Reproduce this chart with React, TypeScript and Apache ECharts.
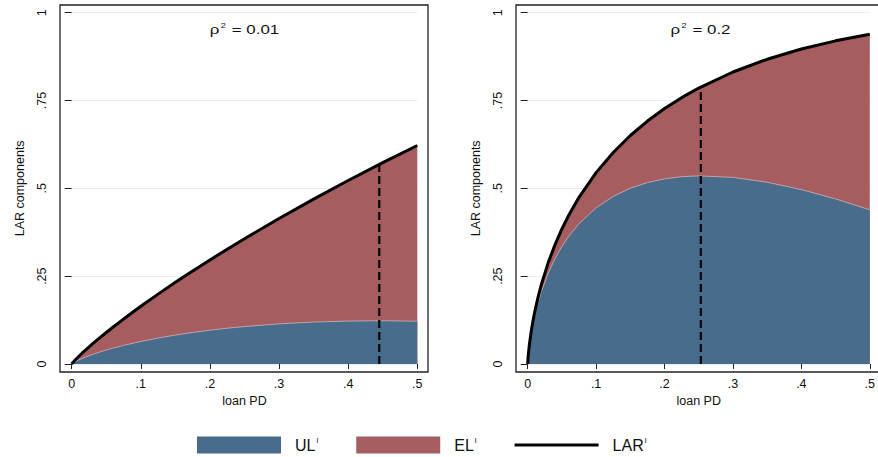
import React, { useEffect, useRef } from "react";
import * as echarts from "echarts";

// loan PD grid (x)
const pd = [0, 0.0005, 0.001, 0.0025, 0.005, 0.0075, 0.01, 0.015, 0.02, 0.03, 0.04, 0.05, 0.06, 0.075, 0.1, 0.125, 0.15, 0.175, 0.2, 0.225, 0.25, 0.3, 0.35, 0.4, 0.45, 0.5];

// Left panel (rho^2 = 0.01)
const larLeft = [0, 0.0014, 0.0026, 0.006, 0.0114, 0.0164, 0.0213, 0.0307, 0.0398, 0.0571, 0.0737, 0.0897, 0.1053, 0.1279, 0.1642, 0.1989, 0.2324, 0.2648, 0.2962, 0.3269, 0.3567, 0.4143, 0.4694, 0.5223, 0.5731, 0.6219];
const ulLeft = [0, 0.0009, 0.0016, 0.0035, 0.0064, 0.0089, 0.0113, 0.0157, 0.0198, 0.0271, 0.0337, 0.0397, 0.0453, 0.0529, 0.0642, 0.0739, 0.0824, 0.0898, 0.0962, 0.1019, 0.1067, 0.1143, 0.1194, 0.1223, 0.1231, 0.1219];

// Right panel (rho^2 = 0.2)
const larRight = [0, 0.0164, 0.0281, 0.0556, 0.091, 0.1201, 0.1455, 0.1891, 0.2263, 0.2885, 0.3401, 0.3844, 0.4234, 0.4744, 0.5447, 0.6022, 0.6504, 0.6915, 0.7271, 0.7582, 0.7855, 0.8312, 0.8674, 0.8965, 0.9199, 0.9388];
const ulRight = [0, 0.0159, 0.0271, 0.0531, 0.086, 0.1126, 0.1355, 0.1741, 0.2063, 0.2585, 0.3001, 0.3344, 0.3634, 0.3994, 0.4447, 0.4772, 0.5004, 0.5165, 0.5271, 0.5332, 0.5355, 0.5312, 0.5174, 0.4965, 0.4699, 0.4388];

// dashed cutoff lines
const cutPD = [0.445, 0.253];
const cutLAR = [0.568, 0.791];

const panelTitles = ["0.01", "0.2"];
const legendNames = ["UL", "EL", "LAR"];

const BLUE = "#486c8c";
const RED = "#a55d60";
const FONT = "Liberation Sans, Arial, Helvetica, sans-serif";

const GRID_TOP = 12.7;
const GRID_H = 351.3;
const GRID_W = 345.6;
const GRID_LEFT = [71.7, 527.7];

const fmt = (v: number) => {
  const s = String(Number(v.toFixed(3)));
  return s.startsWith("0.") ? s.slice(1) : s;
};

export default function App() {
  const ref = useRef<HTMLDivElement>(null);
  useEffect(() => {
    if (!ref.current) return;
    const chart = echarts.init(ref.current, undefined, { renderer: "svg" });
    const lars = [larLeft, larRight];
    const uls = [ulLeft, ulRight];

    const series: any[] = [];
    [0, 1].forEach((i) => {
      series.push({
        name: "EL",
        type: "line",
        xAxisIndex: i,
        yAxisIndex: i,
        data: pd.map((x, k) => [x, lars[i][k]]),
        symbol: "none",
        showSymbol: false,
        itemStyle: { color: RED },
        lineStyle: { width: 0, color: RED },
        areaStyle: { color: RED, opacity: 1 },
        z: 1,
      });
      series.push({
        name: "UL",
        type: "line",
        xAxisIndex: i,
        yAxisIndex: i,
        data: pd.map((x, k) => [x, uls[i][k]]),
        symbol: "none",
        showSymbol: false,
        itemStyle: { color: BLUE },
        lineStyle: { width: 0.8, color: "#d6b2b4" },
        areaStyle: { color: BLUE, opacity: 1 },
        z: 2,
      });
      series.push({
        name: "cutoff",
        type: "line",
        xAxisIndex: i,
        yAxisIndex: i,
        data: [
          [cutPD[i], 0],
          [cutPD[i], cutLAR[i]],
        ],
        symbol: "none",
        showSymbol: false,
        lineStyle: { width: 2.2, color: "#000", type: [8, 4] },
        z: 3,
      });
      series.push({
        name: "LAR",
        type: "line",
        xAxisIndex: i,
        yAxisIndex: i,
        data: pd.map((x, k) => [x, lars[i][k]]),
        symbol: "none",
        showSymbol: false,
        clip: false,
        itemStyle: { color: "#000" },
        lineStyle: { width: 3, color: "#000" },
        z: 4,
      });
    });

    const option: any = {
      animation: false,
      grid: [0, 1].map((i) => ({
        left: GRID_LEFT[i],
        top: GRID_TOP,
        width: GRID_W,
        height: GRID_H,
      })),
      xAxis: [0, 1].map((i) => ({
        type: "value",
        gridIndex: i,
        min: 0,
        max: 0.5,
        interval: 0.1,
        offset: 8,
        axisLine: { show: false },
        axisTick: { show: true, length: 5, lineStyle: { color: "#222", width: 1 } },
        axisLabel: { formatter: fmt, color: "#111", fontSize: 12.5, fontFamily: FONT, margin: 5 },
        splitLine: { show: false },
        name: "loan PD",
        nameLocation: "middle",
        nameGap: 20,
        nameTextStyle: { color: "#111", fontSize: 12.5, fontFamily: FONT },
      })),
      yAxis: [0, 1].map((i) => ({
        type: "value",
        gridIndex: i,
        min: 0,
        max: 1,
        interval: 0.25,
        offset: 11.7,
        axisLine: { show: false },
        axisTick: { show: true, length: 7, lineStyle: { color: "#222", width: 1 } },
        axisLabel: { formatter: fmt, color: "#111", fontSize: 12.5, fontFamily: FONT, rotate: 90, margin: 12 },
        splitLine: { show: true, lineStyle: { color: "#eeeeee", width: 1 } },
        name: "LAR components",
        nameLocation: "middle",
        nameGap: 34,
        nameTextStyle: { color: "#111", fontSize: 12.5, fontFamily: FONT },
      })),
      legend: {
        left: 197,
        top: 436,
        padding: 0,
        itemWidth: 84,
        itemHeight: 17,
        itemGap: 38,
        selectedMode: false,
        symbolKeepAspect: true,
        data: [
          { name: legendNames[0], icon: "rect" },
          { name: legendNames[1], icon: "rect" },
          { name: legendNames[2], icon: "path://M0,0H84V3H0Z" },
        ],
        formatter: (n: string) => `{a|${n}}{s|l}`,
        textStyle: {
          rich: {
            a: { fontSize: 16, fontFamily: FONT, color: "#111", padding: [0, 0, 0, 9], lineHeight: 18 },
            s: { fontSize: 8, fontFamily: FONT, color: "#111", verticalAlign: "top", padding: [0, 0, 0, 1] },
          },
        },
      },
      graphic: [
        ...[0, 1].map((i) => ({
          type: "rect",
          silent: true,
          z: 100,
          shape: { x: GRID_LEFT[i] - 11.7, y: GRID_TOP - 7.7, width: GRID_W + 22.4, height: GRID_H + 15.7 },
          style: { fill: "none", stroke: "#222", lineWidth: 1.3 },
        })),
        ...[0, 1].map((i) => ({
          type: "text",
          silent: true,
          z: 100,
          x: GRID_LEFT[i] + GRID_W / 2,
          y: 29,
          scaleX: 1.3,
          style: {
            text: `{r|ρ}{s|2}{r| = ${panelTitles[i]}}`,
            align: "center",
            verticalAlign: "middle",
            textAlign: "center",
            textVerticalAlign: "middle",
            rich: {
              r: { fontSize: 13, fontFamily: FONT, fill: "#111", color: "#111" },
              s: { fontSize: 7, fontFamily: FONT, fill: "#111", color: "#111", verticalAlign: "top", padding: [0, 1, 0, 1] },
            },
          },
        })),
      ],
      series,
    };
    chart.setOption(option);
    return () => chart.dispose();
  }, []);
  return (
    <div
      ref={ref}
      style={{ position: "absolute", left: 0, top: 0, width: 878, height: 457, background: "#fff" }}
    />
  );
}
